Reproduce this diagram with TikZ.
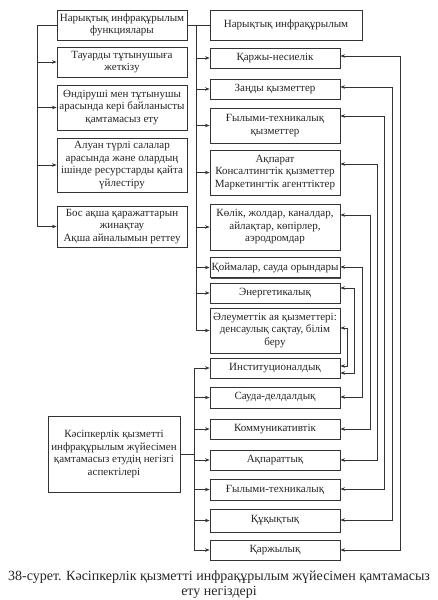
\documentclass[tikz,border=0pt]{standalone}
\usepackage{fontspec}
\setmainfont{Liberation Serif}
\usetikzlibrary{arrows.meta,shadows,calc}
\begin{document}
\begin{tikzpicture}[x=1pt,y=-1pt,
  box/.style={draw=black!80, line width=0.9pt, fill=white, align=center,
    font=\fontsize{11}{12.5}\selectfont, text=black!85, inner sep=1pt,
    drop shadow={shadow xshift=1.3pt, shadow yshift=-1.3pt, fill=black!70, opacity=1}},
  lbox/.style={box, minimum width=130pt},
  rbox/.style={box, minimum width=130pt},
  conn/.style={draw=black!80, line width=0.7pt},
  arr/.style={conn, -{Stealth[length=4.5pt,width=3.5pt]}},
  darr/.style={conn, {Stealth[length=4.5pt,width=3.5pt]}-{Stealth[length=4.5pt,width=3.5pt]}},
  captext/.style={font=\fontsize{14}{16}\selectfont, text=black!85}
]
\useasboundingbox (0,0) rectangle (438,600);
\fill[white] (0,0) rectangle (438,600);

% left column
\node[lbox, minimum height=30pt] (A1) at (122,25) {Нарықтық инфрақұрылым\\функциялары};
\node[lbox, minimum height=30pt] (A2) at (122,62) {Тауарды тұтынушыға\\жеткізу};
\node[lbox, minimum height=45pt] (A3) at (122,107.5) {Өндіруші мен тұтынушы\\арасында кері байланысты\\қамтамасыз ету};
\node[lbox, minimum height=54pt] (A4) at (122,165) {Алуан түрлі салалар\\арасында және олардың\\ішінде ресурстарды қайта\\үйлестіру};
\node[lbox, minimum height=41pt] (A5) at (122,226.5) {Бос ақша қаражаттарын\\жинақтау\\Ақша айналымын реттеу};
\node[box, minimum width=132pt, minimum height=76pt] (K) at (114,454) {Кәсіпкерлік қызметті\\инфрақұрылым жүйесімен\\қамтамасыз етудің негізгі\\аспектілері};

% right column
\node[box, minimum width=152pt, minimum height=30pt] (R0) at (286,25) {Нарықтық инфрақұрылым};
\node[rbox, minimum height=20pt] (R1) at (275,58) {Қаржы-несиелік};
\node[rbox, minimum height=20pt] (R2) at (275,89) {Заңды қызметтер};
\node[rbox, minimum height=35pt] (R3) at (275,125.5) {Ғылыми-техникалық\\қызметтер};
\node[rbox, minimum height=45pt] (R4) at (275,172.5) {Ақпарат\\Консалтингтік қызметтер\\Маркетингтік агенттіктер};
\node[rbox, minimum height=46pt] (R5) at (275,227) {Көлік, жолдар, каналдар,\\айлақтар, көпірлер,\\аэродромдар};
\node[rbox, minimum height=20pt] (R6) at (275,267.5) {Қоймалар, сауда орындары};
\node[rbox, minimum height=20pt] (R7) at (275,293) {Энергетикалық};
\node[rbox, minimum height=45pt] (R8) at (275,330.5) {Әлеуметтік ая қызметтері:\\денсаулық сақтау, білім\\беру};
\node[rbox, minimum height=20pt] (R9) at (275,368) {Институционалдық};
\node[rbox, minimum height=21pt] (R10) at (275,397.5) {Сауда-делдалдық};
\node[rbox, minimum height=20pt] (R11) at (275,429) {Коммуникативтік};
\node[rbox, minimum height=20pt] (R12) at (275,460) {Ақпараттық};
\node[rbox, minimum height=21pt] (R13) at (275,489.5) {Ғылыми-техникалық};
\node[rbox, minimum height=23pt] (R14) at (275,520.5) {Құқықтық};
\node[rbox, minimum height=20pt] (R15) at (275,550) {Қаржылық};

% left bus
\coordinate (LB) at (37,25);
\draw[conn] (A1.west) -- (LB) -- (LB |- A5.west);
\foreach \n in {A2,A3,A4,A5} \draw[arr] (LB |- \n.west) -- (\n.west);

% upper right bus
\coordinate (UB) at (196,25);
\draw[conn] (A1.east) -- (R0.west);
\draw[conn] (UB) -- (UB |- R8.west);
\foreach \n in {R1,R2,R3,R4,R5,R6,R7,R8} \draw[arr] (UB |- \n.west) -- (\n.west);

% lower bus
\coordinate (DB) at (194,454);
\draw[conn] (K.east) -- (DB);
\draw[conn] (DB |- R9.west) -- (DB |- R15.west);
\foreach \n in {R9,R10,R11,R12,R13,R14,R15} \draw[arr] (DB |- \n.west) -- (\n.west);

% feedback links
\draw[darr] (R1.east |- 0,56) -- (400,56) -- (400,550) -- (R15.east |- 0,550);
\draw[darr] (R2.east |- 0,87) -- (392,87) -- (392,520) -- (R14.east |- 0,520);
\draw[darr] (R3.east |- 0,116) -- (384,116) -- (384,489) -- (R13.east |- 0,489);
\draw[darr] (R4.east |- 0,164) -- (377,164) -- (377,460) -- (R12.east |- 0,460);
\draw[darr] (R5.east |- 0,215) -- (370,215) -- (370,429) -- (R11.east |- 0,429);
\draw[darr] (R6.east |- 0,267) -- (362,267) -- (362,397) -- (R10.east |- 0,397);
\draw[darr] (R7.east |- 0,288) -- (354,288) -- (354,373) -- (R9.east |- 0,373);
\draw[darr] (R8.east |- 0,328) -- (347,328) -- (347,366) -- (R9.east |- 0,366);

% caption
\node[captext] (cap1) at (219,577) {38-сурет. Кәсіпкерлік қызметті инфрақұрылым жүйесімен қамтамасыз};
\node[captext] (cap2) at (219,592) {ету негіздері};
\end{tikzpicture}
\end{document}
